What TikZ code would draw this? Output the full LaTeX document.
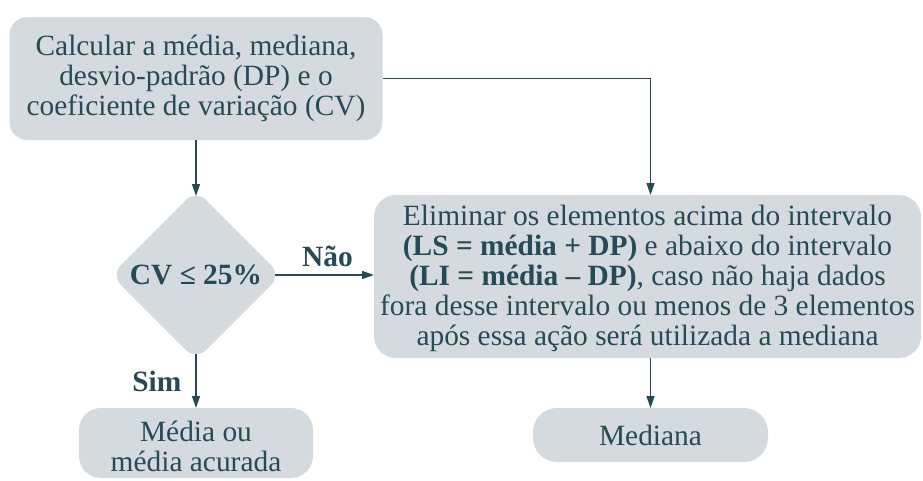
\documentclass[tikz,border=0pt]{standalone}
\usepackage{fontspec}
\setmainfont{Liberation Serif}
\usetikzlibrary{shapes.geometric,arrows.meta}
\definecolor{boxfill}{HTML}{D5DADF}
\definecolor{ink}{HTML}{264B56}
\begin{document}
\begin{tikzpicture}[x=1pt,y=-1pt,
  box/.style={fill=boxfill,rounded corners=18pt,align=center,text=ink,inner sep=0pt,outer sep=0pt,
    font=\fontsize{29.4}{30}\selectfont},
  decision/.style={shape=diamond,fill=boxfill,rounded corners=14pt,minimum width=170pt,minimum height=170pt,
    inner sep=0pt,outer sep=0pt,text=ink,font=\fontsize{29.4}{30}\selectfont\bfseries},
  conn/.style={draw=ink,line width=1.4pt,-{Triangle[length=12pt,width=8pt]}},
  lbl/.style={text=ink,inner sep=0pt,font=\fontsize{29.4}{30}\selectfont\bfseries}]
\useasboundingbox (0,0) rectangle (923,480);
\node[box,minimum width=373pt,minimum height=123pt] (calc) at (196,78.5)
  {Calcular a média, mediana,\\desvio-padrão (DP) e o\\coeficiente de variação (CV)};
\node[decision] (cv) at (196,275) {CV ≤ 25\%};
\node[box,rounded corners=22pt,minimum width=547pt,minimum height=163pt] (elim) at (647.5,276.5)
  {\rule{0pt}{25pt}Eliminar os elementos acima do intervalo\\
   \textbf{(LS = média + DP)} e abaixo do intervalo\\
   \textbf{(LI = média – DP)}, caso não haja dados\\
   fora desse intervalo ou menos de 3 elementos\\
   após essa ação será utilizada a mediana};
\node[box,rounded corners=22pt,minimum width=234pt,minimum height=70pt] (media) at (196,443)
  {\rule{0pt}{27pt}Média ou\\média acurada};
\node[box,rounded corners=24pt,minimum width=235pt,minimum height=54pt] (mediana) at (650.5,435)
  {Mediana};
\draw[conn,shorten >=-6pt] (calc.south) -- (cv.north);
\draw[conn] (calc.east) -| (mediana.north |- elim.north);
\draw[conn,shorten <=-6pt] (cv.east) -- (cv.east -| elim.west)
  node[lbl,pos=0.5,above=8pt] {Não};
\draw[conn,shorten <=-6pt] (cv.south) -- (media.north)
  node[lbl,pos=0.45,left=14pt] {Sim};
\draw[conn] (elim.south -| mediana.north) -- (mediana.north);
\end{tikzpicture}
\end{document}
